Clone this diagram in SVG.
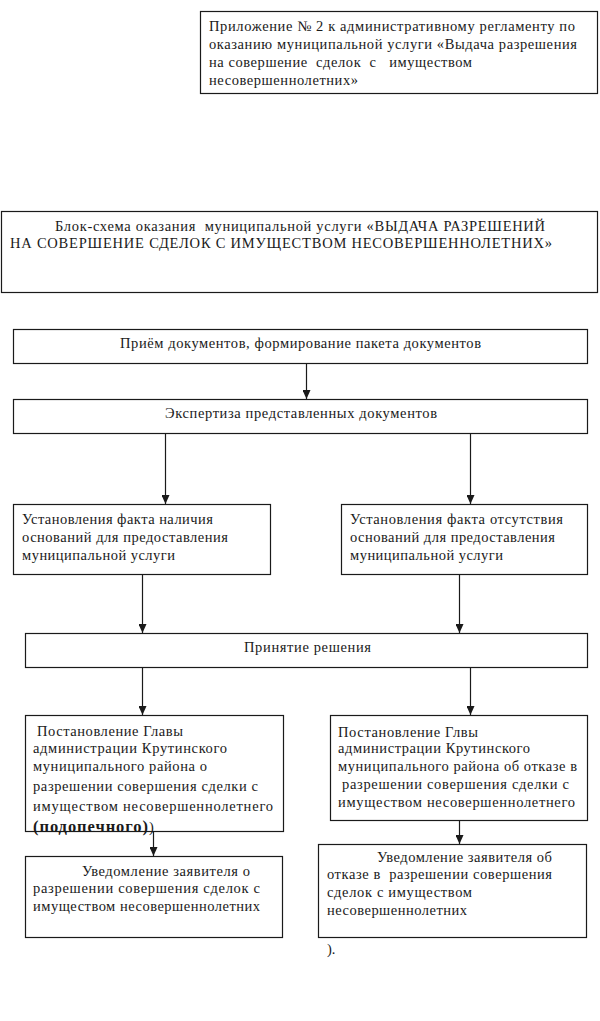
<svg xmlns="http://www.w3.org/2000/svg" width="600" height="1021" viewBox="0 0 600 1021">
<style>
.box{fill:#fff;stroke:#1a1a1a;stroke-width:1.2}
.t{font-family:"Liberation Serif","Times New Roman",serif;font-size:14.5px;fill:#1a1a1a;white-space:pre}
.s{font-family:"Liberation Serif","Times New Roman",serif;font-size:14.5px;fill:#1a1a1a;white-space:pre}
.b{font-weight:bold;font-size:16.5px}
.c{stroke:#1a1a1a;stroke-width:1.2;fill:none;marker-end:url(#ah)}
</style>
<defs>
<marker id="ah" markerWidth="9" markerHeight="8" refX="9" refY="4" orient="auto" markerUnits="userSpaceOnUse" viewBox="0 0 9 8">
<path d="M0,0 L9,4 L0,8 Z" fill="#1a1a1a"/>
</marker>
</defs>
<rect width="600" height="1021" fill="#fff"/>
<g id="annex">
<rect class="box" x="200.5" y="11.5" width="397" height="82"/>
<text class="t" x="209" y="31" textLength="366" lengthAdjust="spacing">Приложение № 2 к административному регламенту по</text>
<text class="t" x="209" y="49" textLength="368" lengthAdjust="spacing">оказанию муниципальной услуги «Выдача разрешения</text>
<text class="t" x="209" y="67" textLength="263" lengthAdjust="spacing">на совершение  сделок  с   имуществом</text>
<text class="t" x="209" y="85" textLength="149" lengthAdjust="spacing">несовершеннолетних»</text>
</g>
<g id="title">
<rect class="box" x="1.5" y="211.5" width="596" height="81"/>
<text class="s" x="55" y="231" textLength="490" lengthAdjust="spacing">Блок-схема оказания  муниципальной услуги «ВЫДАЧА РАЗРЕШЕНИЙ</text>
<text class="s" x="10" y="248" textLength="542" lengthAdjust="spacing">НА СОВЕРШЕНИЕ СДЕЛОК С ИМУЩЕСТВОМ НЕСОВЕРШЕННОЛЕТНИХ»</text>
</g>
<g id="n1">
<rect class="box" x="13.5" y="329.5" width="574" height="34"/>
<text class="t" x="120" y="348" textLength="361" lengthAdjust="spacing">Приём документов, формирование пакета документов</text>
</g>
<g id="n2">
<rect class="box" x="13.5" y="399.5" width="574" height="34"/>
<text class="t" x="165" y="418" textLength="272" lengthAdjust="spacing">Экспертиза представленных документов</text>
</g>
<g id="n3">
<rect class="box" x="13.5" y="504.5" width="257" height="70"/>
<text class="t" x="22" y="524" textLength="191" lengthAdjust="spacing">Установления факта наличия</text>
<text class="t" x="22" y="542" textLength="206" lengthAdjust="spacing">оснований для предоставления</text>
<text class="t" x="22" y="560" textLength="153" lengthAdjust="spacing">муниципальной услуги</text>
</g>
<g id="n4">
<rect class="box" x="341.5" y="504.5" width="246" height="70"/>
<text class="t" x="350" y="524" textLength="213" lengthAdjust="spacing">Установления факта отсутствия</text>
<text class="t" x="350" y="542" textLength="205" lengthAdjust="spacing">оснований для предоставления</text>
<text class="t" x="350" y="560" textLength="153" lengthAdjust="spacing">муниципальной услуги</text>
</g>
<g id="n5">
<rect class="box" x="25.5" y="633.5" width="562" height="34"/>
<text class="t" x="244" y="652" textLength="127" lengthAdjust="spacing">Принятие решения</text>
</g>
<g id="n6">
<rect class="box" x="25.5" y="715.5" width="258" height="116"/>
<text class="t" x="37" y="736" textLength="146" lengthAdjust="spacing">Постановление Главы</text>
<text class="t" x="33" y="753" textLength="194" lengthAdjust="spacing">администрации Крутинского</text>
<text class="t" x="33" y="771" textLength="174" lengthAdjust="spacing">муниципального района о</text>
<text class="t" x="33" y="791" textLength="225" lengthAdjust="spacing">разрешении совершения сделки с</text>
<text class="t" x="33" y="811" textLength="240" lengthAdjust="spacing">имуществом несовершеннолетнего</text>
<text class="t" x="33" y="832"><tspan class="b" textLength="115" lengthAdjust="spacing">(подопечного)</tspan>)</text>
</g>
<g id="n7">
<rect class="box" x="330.5" y="715.5" width="257" height="105"/>
<text class="t" x="338" y="737" textLength="140" lengthAdjust="spacing">Постановление Глвы</text>
<text class="t" x="338" y="753" textLength="192" lengthAdjust="spacing">администрации Крутинского</text>
<text class="t" x="338" y="771" textLength="239" lengthAdjust="spacing">муниципального района об отказе в</text>
<text class="t" x="342" y="789" textLength="227" lengthAdjust="spacing">разрешении совершения сделки с</text>
<text class="t" x="338" y="807" textLength="237" lengthAdjust="spacing">имуществом несовершеннолетнего</text>
</g>
<g id="n8">
<rect class="box" x="25.5" y="856.5" width="257" height="81"/>
<text class="t" x="82" y="876" textLength="168" lengthAdjust="spacing">Уведомление заявителя о</text>
<text class="t" x="33" y="893" textLength="227" lengthAdjust="spacing">разрешении совершения сделок с</text>
<text class="t" x="33" y="911" textLength="227" lengthAdjust="spacing">имуществом несовершеннолетних</text>
</g>
<g id="n9">
<rect class="box" x="318.5" y="844.5" width="268" height="93"/>
<text class="t" x="377" y="862" textLength="175" lengthAdjust="spacing">Уведомление заявителя об</text>
<text class="t" x="327" y="879" textLength="225" lengthAdjust="spacing">отказе в  разрешении совершения</text>
<text class="t" x="327" y="897" textLength="145" lengthAdjust="spacing">сделок с имуществом</text>
<text class="t" x="327" y="915" textLength="140" lengthAdjust="spacing">несовершеннолетних</text>
</g>
<text class="t" x="327" y="954">).</text>
<g id="connectors">
<line class="c" x1="306.5" y1="364" x2="306.5" y2="399"/>
<line class="c" x1="165.5" y1="434" x2="165.5" y2="504"/>
<line class="c" x1="470.5" y1="434" x2="470.5" y2="504"/>
<line class="c" x1="142.5" y1="575" x2="142.5" y2="633"/>
<line class="c" x1="459.5" y1="575" x2="459.5" y2="633"/>
<line class="c" x1="142.5" y1="668" x2="142.5" y2="715"/>
<line class="c" x1="470.5" y1="668" x2="470.5" y2="715"/>
<line class="c" x1="153.5" y1="832" x2="153.5" y2="856"/>
<line class="c" x1="459.5" y1="821" x2="459.5" y2="844"/>
</g>
</svg>
